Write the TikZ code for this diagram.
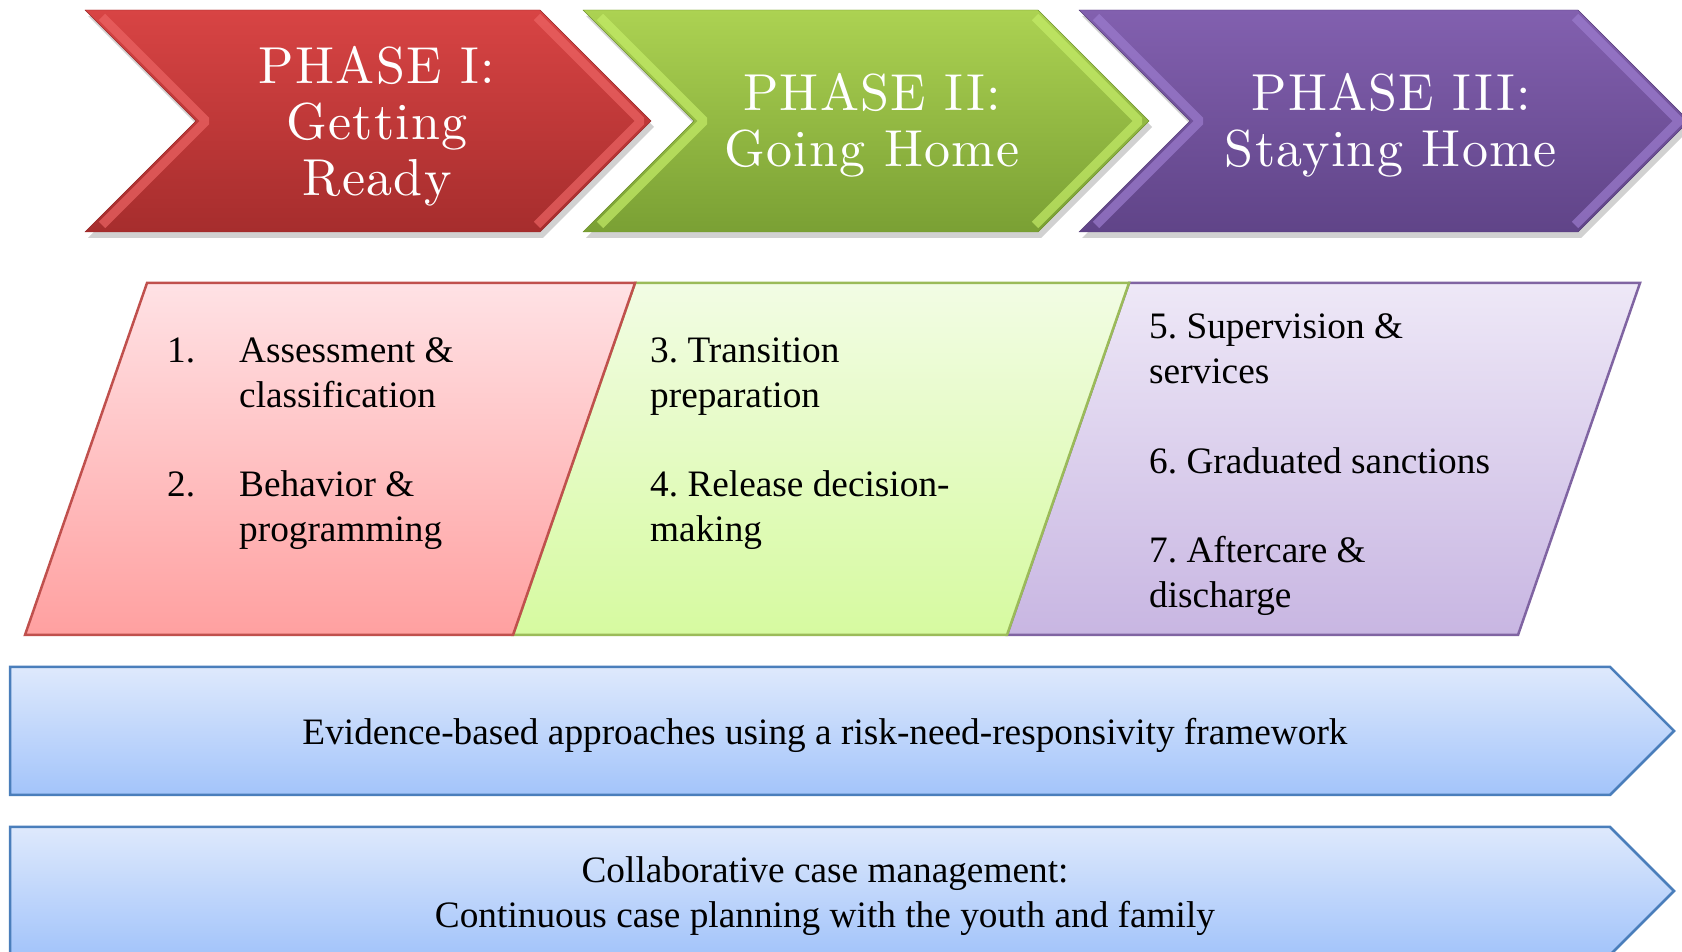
\documentclass[tikz,border=0pt]{standalone}
\usepackage{fontspec}
\newfontfamily\timesfont{Liberation Serif}
\newfontfamily\titlefont{lmroman10-regular.otf}[LetterSpace=2.5]

\definecolor{phaseIa}{RGB}{216,68,68}
\definecolor{phaseIb}{RGB}{166,45,45}
\definecolor{phaseIedge}{RGB}{150,40,40}
\definecolor{phaseIlight}{RGB}{236,100,100}
\definecolor{phaseIIa}{RGB}{172,210,82}
\definecolor{phaseIIb}{RGB}{122,160,52}
\definecolor{phaseIIedge}{RGB}{110,145,45}
\definecolor{phaseIIlight}{RGB}{196,236,104}
\definecolor{phaseIIIa}{RGB}{130,96,175}
\definecolor{phaseIIIb}{RGB}{96,68,136}
\definecolor{phaseIIIedge}{RGB}{85,60,120}
\definecolor{phaseIIIlight}{RGB}{156,124,206}
\definecolor{stepIa}{RGB}{255,226,229}
\definecolor{stepIb}{RGB}{255,160,160}
\definecolor{stepIedge}{RGB}{192,80,77}
\definecolor{stepIIa}{RGB}{242,252,228}
\definecolor{stepIIb}{RGB}{214,250,160}
\definecolor{stepIIedge}{RGB}{155,187,89}
\definecolor{stepIIIa}{RGB}{238,232,247}
\definecolor{stepIIIb}{RGB}{200,182,226}
\definecolor{stepIIIedge}{RGB}{128,100,162}
\definecolor{barA}{RGB}{222,233,252}
\definecolor{barB}{RGB}{163,196,250}
\definecolor{baredge}{RGB}{74,126,187}

\begin{document}
\begin{tikzpicture}[x=1pt, y=1pt]
			\tikzstyle{title} = [text=white, align=center, inner sep=0pt, font=\titlefont\fontsize{52}{56}\selectfont]
			\tikzstyle{item} = [anchor=base west, align=left, inner sep=0pt, font=\timesfont\frenchspacing\fontsize{37.3}{44.5}\selectfont]
			\tikzstyle{bartext} = [anchor=base, align=center, inner sep=0pt, font=\timesfont\frenchspacing\fontsize{37.3}{45}\selectfont]
			\tikzstyle{shadow} = [fill=black, opacity=0.18]
			\tikzstyle{bevel} = [line width=9pt, opacity=0.7, line join=bevel]
			\useasboundingbox (0,0) rectangle (1682,951);
			\clip (0,0) rectangle (1682,951);

			% phase chevrons
			\begin{scope}
			\fill[shadow] (88,935) -- (543,935) -- (654,824) -- (543,713) -- (88,713) -- (199,824) -- cycle;
			\fill[shadow] (586,935) -- (1041,935) -- (1152,824) -- (1041,713) -- (586,713) -- (697,824) -- cycle;
			\fill[shadow] (1082,935) -- (1581,935) -- (1692,824) -- (1581,713) -- (1082,713) -- (1193,824) -- cycle;

			\draw[phaseIedge, top color=phaseIa, bottom color=phaseIb]
				(85,941) -- (540,941) -- (651,830) -- (540,719) -- (85,719) -- (196,830) -- cycle;
			\draw[phaseIlight, bevel] (102,934) -- (206,830) -- (102,726);
			\draw[phaseIlight, bevel] (537,934) -- (641,830) -- (537,726);

			\draw[phaseIIedge, top color=phaseIIa, bottom color=phaseIIb]
				(583,941) -- (1038,941) -- (1149,830) -- (1038,719) -- (583,719) -- (694,830) -- cycle;
			\draw[phaseIIlight, bevel] (600,934) -- (704,830) -- (600,726);
			\draw[phaseIIlight, bevel] (1035,934) -- (1139,830) -- (1035,726);

			\draw[phaseIIIedge, top color=phaseIIIa, bottom color=phaseIIIb]
				(1079,941) -- (1578,941) -- (1689,830) -- (1578,719) -- (1079,719) -- (1190,830) -- cycle;
			\draw[phaseIIIlight, bevel] (1096,934) -- (1200,830) -- (1096,726);
			\draw[phaseIIIlight, bevel] (1575,934) -- (1679,830) -- (1575,726);

			\node[title] (phase1) at (377,825) {PHASE I:\\Getting\\Ready};
			\node[title] (phase2) at (872,826) {PHASE II:\\Going Home};
			\node[title] (phase3) at (1391,826) {PHASE III:\\Staying Home};
			\end{scope}

			% steps of each phase
			\begin{scope}[line width=2.5pt, line join=miter]
			\draw[stepIIIedge, top color=stepIIIa, bottom color=stepIIIb]
				(1007,316) -- (1129,668) -- (1640,668) -- (1518,316) -- cycle;
			\draw[stepIIedge, top color=stepIIa, bottom color=stepIIb]
				(513,316) -- (635,668) -- (1129,668) -- (1007,316) -- cycle;
			\draw[stepIedge, top color=stepIa, bottom color=stepIb]
				(25,316) -- (147,668) -- (635,668) -- (513,316) -- cycle;
			\end{scope}

			% base of a two-line item is its last line
			\node[item] (n1) at (167,588) {1.};
			\node[item] (s1) at (239,543.5) {Assessment \&\\classification};
			\node[item] (n2) at (167,454) {2.};
			\node[item] (s2) at (239,409.5) {Behavior \&\\programming};
			\node[item] (s3) at (650,543.5) {3. Transition\\preparation};
			\node[item] (s4) at (650,409.5) {4. Release decision-\\making};
			\node[item] (s5) at (1149,567.5) {5. Supervision \&\\services};
			\node[item] (s6) at (1149,477) {6. Graduated sanctions};
			\node[item] (s7) at (1149,343.5) {7. Aftercare \&\\discharge};

			% cross-cutting bars
			\begin{scope}[line width=2.5pt, line join=miter]
			\draw[baredge, top color=barA, bottom color=barB]
				(10,284) -- (1610,284) -- (1674,220) -- (1610,156) -- (10,156) -- cycle;
			\draw[baredge, top color=barA, bottom color=barB]
				(10,124) -- (1610,124) -- (1674,60) -- (1610,-4) -- (10,-4) -- cycle;
			\end{scope}

			\node[bartext] (ebp) at (825,206) {Evidence-based approaches using a risk-need-responsivity framework};
			\node[bartext] (ccm) at (825,24) {Collaborative case management:\\Continuous case planning with the youth and family};
\end{tikzpicture}
\end{document}
